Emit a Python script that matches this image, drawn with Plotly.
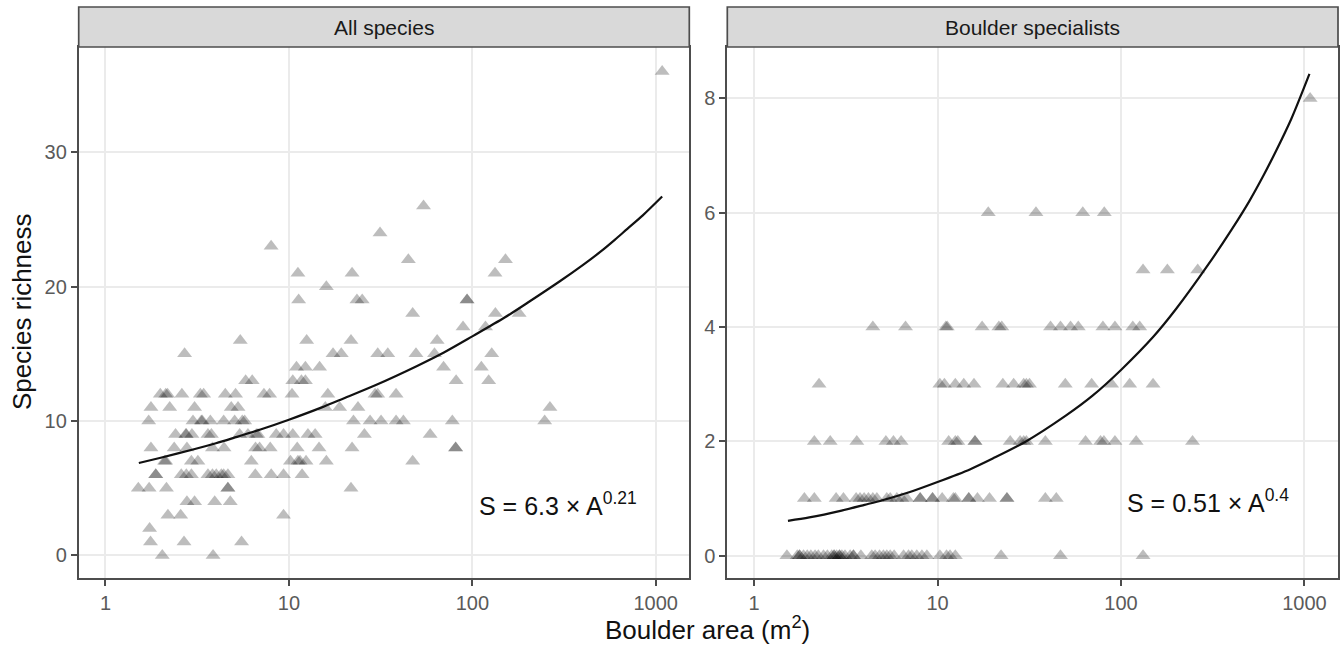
import plotly.graph_objects as go

# ---------------- data ----------------
# Panel 1: All species  (boulder area m^2, species richness)
area_all = [
    11.2, 22.1, 133,
    16.0,
    11.3, 23.5, 25.1, 93.6, 93.6,
    5.43, 12.5, 21.8, 64.3,
    2.70, 17.4, 19.3, 30.5, 34.6, 49.3, 62.2, 127.6,
    11.0, 12.3, 14.7, 69.7, 112,
    5.81, 6.31, 10.5, 11.7, 12.3, 81.6, 122.8,
    1.99, 2.13, 2.18, 2.61, 3.29, 3.43, 4.50, 5.12, 7.31, 7.85, 10.4, 16.3, 29.5, 30.5, 38.4,
    1.77, 2.24, 3.06, 4.85, 5.28, 15.8, 18.9, 23.8, 265,
    1.72, 3.0, 3.33, 3.37, 3.73, 4.41, 5.06, 5.57, 5.74, 22.5, 27.7, 31.8, 38.4, 42.1, 77.8, 248,
    2.41, 2.74, 2.76, 2.96, 3.62, 3.78, 5.39, 5.98, 6.64, 6.78, 8.53, 9.35, 10.5, 12.7, 13.9, 25.8, 58.9,
    1.77, 2.37, 2.78, 3.83, 4.43, 6.58, 6.92, 7.91, 11.1, 14.6, 22.1, 81.1, 81.1,
    2.10, 2.13, 2.94, 3.19, 6.24, 10.2, 11.2, 11.5, 12.4, 16.0, 47.3,
    1.88, 1.88, 2.59, 2.76, 2.94, 3.62, 3.83, 4.02, 4.28, 4.41, 4.65, 6.56, 8.01, 9.35, 11.8,
    1.51, 1.73, 2.15, 4.65, 4.65, 21.8,
    2.78, 3.06, 3.94, 4.79,
    2.19, 2.57, 9.35,
    1.74,
    1.76, 2.68, 5.52,
    2.04, 3.86,
    8.0, 31.4, 54.2, 44.8, 151.6, 47.3, 133.6, 180, 89, 118, 1084,
]
rich_all = (
    [21, 21, 21]
    + [20]
    + [19] * 5
    + [16] * 4
    + [15] * 8
    + [14] * 5
    + [13] * 7
    + [12] * 15
    + [11] * 9
    + [10] * 16
    + [9] * 17
    + [8] * 13
    + [7] * 11
    + [6] * 15
    + [5] * 6
    + [4] * 4
    + [3] * 3
    + [2]
    + [1] * 3
    + [0] * 2
    + [23, 24, 26, 22, 22, 18, 18, 18, 17, 17, 36]
)

# Panel 2: Boulder specialists
area_spec = [
    1074,
    18.9, 34.4, 61.9, 81.1,
    131.9, 179, 262,
    4.44, 6.69, 11.1, 11.3, 17.5, 21.6, 22.4, 41.3, 46.8, 53.1, 58.5, 79.7, 92.7, 116, 126.5,
    2.26, 10.3, 10.9, 12.5, 13.9, 15.8, 22.7, 26.0, 29.5, 30.5, 31.7, 49.7, 69.2, 88.9, 111.5, 149.6,
    2.13, 2.60, 3.63, 5.23, 5.75, 6.33, 11.5, 12.5, 12.9, 16.0, 16.0, 24.9, 28.2, 29.5, 30.5, 38.7,
    64.1, 77.4, 80.7, 92.7, 121, 245.5,
    1.88, 2.13, 2.80, 3.07, 3.6, 3.78, 3.98, 4.2, 4.44, 4.67, 5.29, 5.52, 6.0, 6.39, 6.8, 8.04, 8.04,
    9.39, 9.39, 10.6, 12.2, 12.5, 14.8, 14.8, 16.5, 19.2, 23.9, 23.9, 38.7, 44.4,
    1.51, 1.72, 1.77, 1.77, 1.86, 1.95, 2.04, 2.15, 2.24, 2.39, 2.51, 2.65, 2.73, 2.73, 2.82, 2.92,
    2.92, 3.01, 3.13, 3.34, 3.48, 3.48, 3.82, 4.38, 4.57, 4.83, 5.07, 5.29, 5.52, 5.80, 6.53, 6.95,
    7.24, 7.71, 8.22, 8.75, 10.3, 11.2, 11.7, 12.5, 22.2, 46.8, 131.9,
]
rich_spec = (
    [8]
    + [6] * 4
    + [5] * 3
    + [4] * 15
    + [3] * 16
    + [2] * 22
    + [1] * 30
    + [0] * 43
)

# fitted power-law curves
curve_all_area = [1.52, 2, 3, 4, 5, 7, 10, 15, 20, 30, 50, 70, 100, 150, 200, 300, 400, 500, 600,
                  700, 850, 1084]
curve_all_rich = [6.88, 7.27, 7.88, 8.35, 8.75, 9.37, 10.1, 11.0, 11.7, 12.7, 14.1, 15.1, 16.3,
                  17.7, 18.8, 20.4, 21.6, 22.6, 23.5, 24.3, 25.3, 26.7]
curve_spec_area = [1.53, 2, 3, 4, 5, 7, 10, 15, 20, 30, 50, 70, 100, 150, 200, 300, 400, 500, 600,
                   700, 850, 1065]
curve_spec_rich = [0.61, 0.67, 0.79, 0.89, 0.97, 1.11, 1.29, 1.51, 1.70, 1.99, 2.45, 2.80, 3.25,
                   3.83, 4.32, 5.10, 5.70, 6.20, 6.66, 7.08, 7.65, 8.43]

panel_titles = ["All species", "Boulder specialists"]
equations = ["S = 6.3 × A<sup>0.21</sup>", "S = 0.51 × A<sup>0.4</sup>"]
x_ticks = [1, 10, 100, 1000]
y_ticks_all = [0, 10, 20, 30]
y_ticks_spec = [0, 2, 4, 6, 8]

# ---------------- figure ----------------
W, H = 1343, 652
FONT = "Liberation Sans, Arial, Helvetica, sans-serif"

def px_x(p):
    return p / W

def px_y(p):
    return 1 - p / H

dom1 = [px_x(78.7), px_x(689.3)]
dom2 = [px_x(727.3), px_x(1338.0)]
ydom = [px_y(578.3), px_y(47.0)]

fig = go.Figure()
mk = dict(symbol="triangle-up", size=13, color="rgba(0,0,0,0.26)", line=dict(width=0))
curve_line = dict(color="#111111", width=2.2, shape="spline", smoothing=0.8)
fig.add_trace(go.Scatter(x=area_all, y=rich_all, mode="markers", marker=mk,
                         xaxis="x", yaxis="y", showlegend=False))
fig.add_trace(go.Scatter(x=curve_all_area, y=curve_all_rich, mode="lines", line=curve_line,
                         xaxis="x", yaxis="y", showlegend=False))
fig.add_trace(go.Scatter(x=area_spec, y=rich_spec, mode="markers", marker=mk,
                         xaxis="x2", yaxis="y2", showlegend=False))
fig.add_trace(go.Scatter(x=curve_spec_area, y=curve_spec_rich, mode="lines", line=curve_line,
                         xaxis="x2", yaxis="y2", showlegend=False))

axis_common = dict(
    showgrid=True, gridcolor="#EBEBEB", gridwidth=2, zeroline=False,
    showline=True, mirror=True, linecolor="#4d4d4d", linewidth=1.7,
    ticks="outside", ticklen=6, tickwidth=2, tickcolor="#4d4d4d",
    tickfont=dict(family=FONT, size=20, color="#5a5a5a"),
)
xax = dict(axis_common, type="log", range=[-0.146, 3.183], tickvals=x_ticks,
           ticktext=[str(v) for v in x_ticks])

fig.update_layout(
    width=W, height=H, margin=dict(l=0, r=0, t=0, b=0),
    plot_bgcolor="white", paper_bgcolor="white",
    xaxis=dict(xax, domain=dom1, anchor="y"),
    xaxis2=dict(xax, domain=dom2, anchor="y2"),
    yaxis=dict(axis_common, domain=ydom, range=[-1.7, 37.83], tickvals=y_ticks_all, anchor="x"),
    yaxis2=dict(axis_common, domain=ydom, range=[-0.395, 8.9], tickvals=y_ticks_spec, anchor="x2"),
    font=dict(family=FONT),
)

shapes = []
annotations = []
for dom, title in zip([dom1, dom2], panel_titles):
    shapes.append(dict(type="rect", xref="paper", yref="paper",
                       x0=dom[0], x1=dom[1], y0=ydom[1], y1=px_y(7),
                       fillcolor="#D9D9D9", line=dict(color="#4d4d4d", width=1.7), layer="above"))
    annotations.append(dict(text=title, xref="paper", yref="paper",
                            x=(dom[0] + dom[1]) / 2, y=(ydom[1] + px_y(7)) / 2,
                            showarrow=False, xanchor="center", yanchor="middle",
                            font=dict(family=FONT, size=21, color="#1a1a1a")))

annotations.append(dict(text=equations[0], xref="x", yref="y", x=2.025, y=3.8,
                        showarrow=False, xanchor="left", yanchor="middle",
                        font=dict(family=FONT, size=25, color="#111111")))
annotations.append(dict(text=equations[1], xref="x2", yref="y2", x=2.02, y=0.95,
                        showarrow=False, xanchor="left", yanchor="middle",
                        font=dict(family=FONT, size=25, color="#111111")))
annotations.append(dict(text="Boulder area (m<sup>2</sup>)", xref="paper", yref="paper",
                        x=px_x(708), y=px_y(628), showarrow=False,
                        xanchor="center", yanchor="middle",
                        font=dict(family=FONT, size=26, color="#111111")))
annotations.append(dict(text="Species richness", xref="paper", yref="paper",
                        x=px_x(22), y=px_y(312), showarrow=False, textangle=-90,
                        xanchor="center", yanchor="middle",
                        font=dict(family=FONT, size=26, color="#111111")))

fig.update_layout(shapes=shapes, annotations=annotations)

fig.write_html("out.html", include_plotlyjs=True, config={"displayModeBar": False},
               post_script="document.body.style.margin='0';document.body.style.overflow='hidden';")
